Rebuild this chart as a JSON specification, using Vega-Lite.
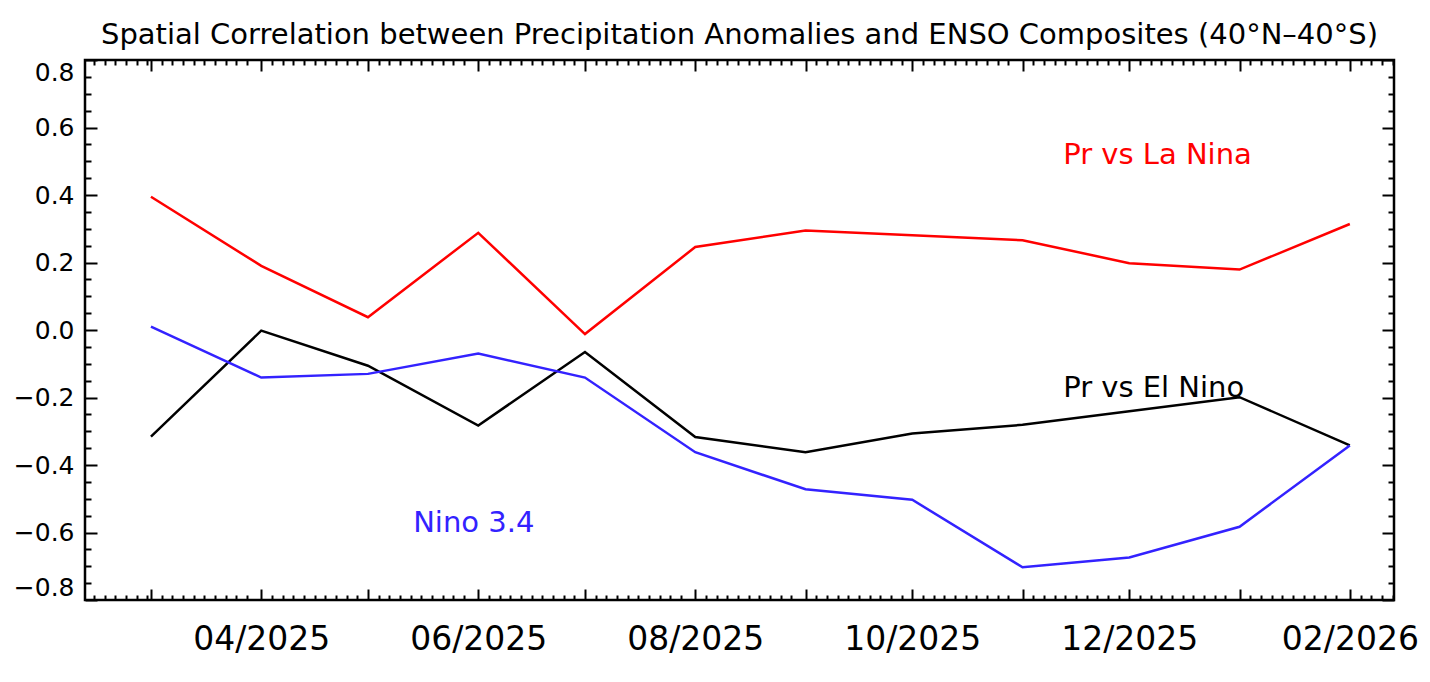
{
  "$schema": "https://vega.github.io/schema/vega-lite/v6.json",
  "autosize": {"type": "none"},
  "padding": {"left": 85, "top": 60, "right": 36, "bottom": 82},
  "width": 1309,
  "height": 540,
  "background": "white",
  "config": {
    "view": {"stroke": "black", "strokeWidth": 2.5},
    "axis": {"grid": false, "domain": false, "tickColor": "black", "tickWidth": 2, "labelColor": "black", "labelFont": "DejaVu Sans"}
  },
  "title": {
    "text": "Spatial Correlation between Precipitation Anomalies and ENSO Composites (40°N–40°S)",
    "font": "DejaVu Sans",
    "fontSize": 29,
    "fontWeight": "normal",
    "color": "black",
    "anchor": "middle",
    "offset": 9
  },
  "datasets": {
    "series": [
      {"month": "2025-03-01T00:00:00", "series": "La Nina", "r": 0.395},
      {"month": "2025-04-01T00:00:00", "series": "La Nina", "r": 0.190},
      {"month": "2025-05-01T00:00:00", "series": "La Nina", "r": 0.038},
      {"month": "2025-06-01T00:00:00", "series": "La Nina", "r": 0.288},
      {"month": "2025-07-01T00:00:00", "series": "La Nina", "r": -0.012},
      {"month": "2025-08-01T00:00:00", "series": "La Nina", "r": 0.246},
      {"month": "2025-09-01T00:00:00", "series": "La Nina", "r": 0.295},
      {"month": "2025-10-01T00:00:00", "series": "La Nina", "r": 0.281},
      {"month": "2025-11-01T00:00:00", "series": "La Nina", "r": 0.266},
      {"month": "2025-12-01T00:00:00", "series": "La Nina", "r": 0.198},
      {"month": "2026-01-01T00:00:00", "series": "La Nina", "r": 0.179},
      {"month": "2026-02-01T00:00:00", "series": "La Nina", "r": 0.314},
      {"month": "2025-03-01T00:00:00", "series": "El Nino", "r": -0.316},
      {"month": "2025-04-01T00:00:00", "series": "El Nino", "r": -0.002},
      {"month": "2025-05-01T00:00:00", "series": "El Nino", "r": -0.106},
      {"month": "2025-06-01T00:00:00", "series": "El Nino", "r": -0.283},
      {"month": "2025-07-01T00:00:00", "series": "El Nino", "r": -0.065},
      {"month": "2025-08-01T00:00:00", "series": "El Nino", "r": -0.317},
      {"month": "2025-09-01T00:00:00", "series": "El Nino", "r": -0.362},
      {"month": "2025-10-01T00:00:00", "series": "El Nino", "r": -0.307},
      {"month": "2025-11-01T00:00:00", "series": "El Nino", "r": -0.281},
      {"month": "2025-12-01T00:00:00", "series": "El Nino", "r": -0.241},
      {"month": "2026-01-01T00:00:00", "series": "El Nino", "r": -0.199},
      {"month": "2026-02-01T00:00:00", "series": "El Nino", "r": -0.342},
      {"month": "2025-03-01T00:00:00", "series": "Nino 3.4", "r": 0.010},
      {"month": "2025-04-01T00:00:00", "series": "Nino 3.4", "r": -0.141},
      {"month": "2025-05-01T00:00:00", "series": "Nino 3.4", "r": -0.130},
      {"month": "2025-06-01T00:00:00", "series": "Nino 3.4", "r": -0.070},
      {"month": "2025-07-01T00:00:00", "series": "Nino 3.4", "r": -0.141},
      {"month": "2025-08-01T00:00:00", "series": "Nino 3.4", "r": -0.362},
      {"month": "2025-09-01T00:00:00", "series": "Nino 3.4", "r": -0.472},
      {"month": "2025-10-01T00:00:00", "series": "Nino 3.4", "r": -0.503},
      {"month": "2025-11-01T00:00:00", "series": "Nino 3.4", "r": -0.703},
      {"month": "2025-12-01T00:00:00", "series": "Nino 3.4", "r": -0.674},
      {"month": "2026-01-01T00:00:00", "series": "Nino 3.4", "r": -0.583},
      {"month": "2026-02-01T00:00:00", "series": "Nino 3.4", "r": -0.342}
    ],
    "labels": [
      {"text": "Pr vs La Nina", "series": "La Nina", "month": "2025-11-12T10:00:00", "r": 0.52},
      {"text": "Pr vs El Nino", "series": "El Nino", "month": "2025-11-12T10:00:00", "r": -0.172},
      {"text": "Nino 3.4", "series": "Nino 3.4", "month": "2025-05-13T17:00:00", "r": -0.572}
    ]
  },
  "resolve": {"axis": {"x": "independent", "y": "independent"}},
  "layer": [
    {
      "data": {"name": "series"},
      "mark": {"type": "line", "strokeJoin": "miter"},
      "encoding": {
        "x": {
          "field": "month", "type": "temporal",
          "scale": {"domain": [{"year": 2025, "month": 2, "date": 10, "hours": 11}, {"year": 2026, "month": 2, "date": 13, "hours": 10}], "nice": false},
          "axis": {
            "orient": "bottom", "title": null,
            "tickCount": {"interval": "day", "step": 3},
            "tickSize": {"condition": {"test": "date(datum.value) == 1", "value": -11}, "value": -5},
            "tickOpacity": {"condition": {"test": "date(datum.value) == 31", "value": 0}, "value": 1},
            "labelExpr": "date(datum.value) == 1 && month(datum.value) % 2 == 1 ? timeFormat(datum.value, '%m/%Y') : ''",
            "labelOverlap": false, "labelFlush": false,
            "labelFontSize": 33, "labelPadding": 34
          }
        },
        "y": {
          "field": "r", "type": "quantitative",
          "scale": {"domain": [-0.8, 0.8], "nice": false, "zero": false},
          "axis": {
            "orient": "left", "title": null,
            "values": [-0.8, -0.75, -0.7, -0.65, -0.6, -0.55, -0.5, -0.45, -0.4, -0.35, -0.3, -0.25, -0.2, -0.15, -0.1, -0.05, 0, 0.05, 0.1, 0.15, 0.2, 0.25, 0.3, 0.35, 0.4, 0.45, 0.5, 0.55, 0.6, 0.65, 0.7, 0.75, 0.8],
            "tickSize": {"condition": {"test": "abs(datum.value * 5 - round(datum.value * 5)) < 0.001", "value": -12}, "value": -6},
            "labelExpr": "abs(datum.value * 5 - round(datum.value * 5)) < 0.001 ? format(datum.value, '.1f') : ''",
            "labelOverlap": false, "labelFlush": true,
            "labelFontSize": 25, "labelPadding": 23
          }
        },
        "color": {
          "field": "series", "type": "nominal",
          "scale": {"domain": ["La Nina", "El Nino", "Nino 3.4"], "range": ["#ff0000", "#000000", "#3322ff"]},
          "legend": null
        },
        "strokeWidth": {
          "field": "series", "type": "nominal",
          "scale": {"domain": ["La Nina", "El Nino", "Nino 3.4"], "range": [2.5, 2.5, 1.6]},
          "legend": null
        }
      }
    },
    {
      "data": {"name": "labels"},
      "mark": {"type": "text", "align": "left", "baseline": "middle", "font": "DejaVu Sans", "fontSize": 29},
      "encoding": {
        "x": {
          "field": "month", "type": "temporal",
          "axis": {
            "orient": "top", "title": null, "labels": false,
            "tickCount": {"interval": "day", "step": 3},
            "tickSize": {"condition": {"test": "date(datum.value) == 1", "value": -11}, "value": -5},
            "tickOpacity": {"condition": {"test": "date(datum.value) == 31", "value": 0}, "value": 1}
          }
        },
        "y": {
          "field": "r", "type": "quantitative",
          "axis": {
            "orient": "right", "title": null, "labels": false,
            "values": [-0.8, -0.75, -0.7, -0.65, -0.6, -0.55, -0.5, -0.45, -0.4, -0.35, -0.3, -0.25, -0.2, -0.15, -0.1, -0.05, 0, 0.05, 0.1, 0.15, 0.2, 0.25, 0.3, 0.35, 0.4, 0.45, 0.5, 0.55, 0.6, 0.65, 0.7, 0.75, 0.8],
            "tickSize": {"condition": {"test": "abs(datum.value * 5 - round(datum.value * 5)) < 0.001", "value": -12}, "value": -6}
          }
        },
        "text": {"field": "text", "type": "nominal"},
        "color": {"field": "series", "type": "nominal", "legend": null}
      }
    },
    {
      "mark": {"type": "rule", "color": "black", "strokeWidth": 1.6, "strokeDash": [2.5, 8.5]},
      "encoding": {"y": {"datum": 0, "type": "quantitative", "axis": null}}
    }
  ]
}
